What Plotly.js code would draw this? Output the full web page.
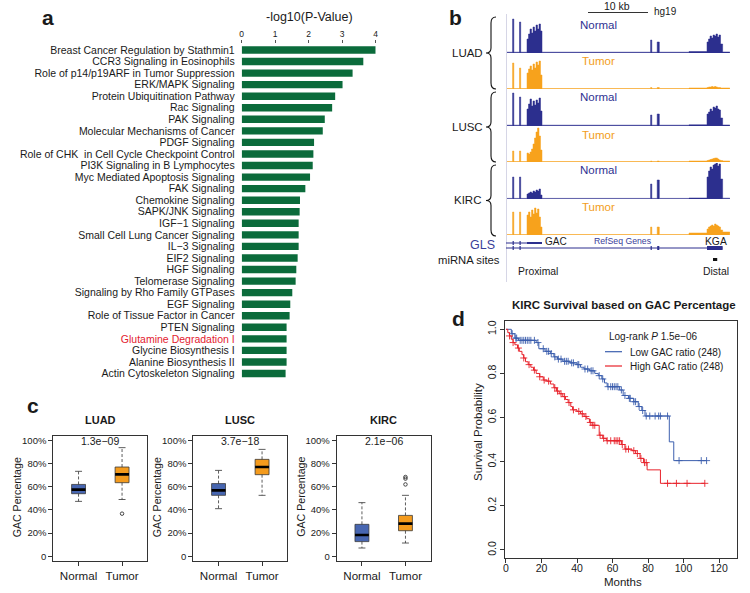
<!DOCTYPE html>
<html>
<head>
<meta charset="utf-8">
<script src="https://cdn.plot.ly/plotly-3.0.1.min.js"></script>
<style>
  html, body { margin: 0; padding: 0; background: #fff; }
  #fig { width: 750px; height: 593px; }
</style>
</head>
<body>
<div id="fig"></div>
<script>
/* ---------- panel a : pathway enrichment ---------- */
const pathways = [
  'Breast Cancer Regulation by Stathmin1', 'CCR3 Signaling in Eosinophils',
  'Role of p14/p19ARF in Tumor Suppression', 'ERK/MAPK Signaling',
  'Protein Ubiquitination Pathway', 'Rac Signaling', 'PAK Signaling',
  'Molecular Mechanisms of Cancer', 'PDGF Signaling',
  'Role of CHK  in Cell Cycle Checkpoint Control', 'PI3K Signaling in B Lymphocytes',
  'Myc Mediated Apoptosis Signaling', 'FAK Signaling', 'Chemokine Signaling',
  'SAPK/JNK Signaling', 'IGF\u22121 Signaling', 'Small Cell Lung Cancer Signaling',
  'IL\u22123 Signaling', 'EIF2 Signaling', 'HGF Signaling', 'Telomerase Signaling',
  'Signaling by Rho Family GTPases', 'EGF Signaling', 'Role of Tissue Factor in Cancer',
  'PTEN Signaling', 'Glutamine Degradation I', 'Glycine Biosynthesis I',
  'Alanine Biosynthesis II', 'Actin Cytoskeleton Signaling'
];
const pathwayScores = [4.0, 3.63, 3.31, 3.01, 2.79, 2.70, 2.48, 2.42, 2.16, 2.14, 2.12,
  2.04, 1.90, 1.74, 1.73, 1.70, 1.70, 1.70, 1.67, 1.63, 1.61, 1.51, 1.45, 1.43,
  1.34, 1.34, 1.34, 1.34, 1.31];
const highlightPathway = 'Glutamine Degradation I';

/* ---------- panel b : coverage tracks (kb from left edge of view) ---------- */
const covKb = [0, 1.1, 1.3, 2.25, 2.45, 3.5, 3.75, 4.0, 4.25, 4.5, 4.75, 5.0, 5.25, 5.5,
  5.75, 6.0, 24.1, 24.3, 25.2, 25.55, 30.5, 33.5, 33.75, 34.0, 34.25, 34.5, 34.75, 35.0,
  35.25, 35.5, 35.75, 36.1, 37.3];
const luadNormalCov = [0.8, 34, 0.8, 31, 0.8, 14, 19, 24, 20, 26, 22, 28, 24, 29, 22,
  0.8, 13, 0.8, 11, 0.8, 1.5, 11, 14, 17, 15, 18, 17, 19, 16, 18, 9, 1, 0];
const luadTumorCov = [0.5, 26, 0.5, 21, 0.5, 16, 20, 23, 19, 25, 21, 27, 24, 28, 14,
  0.5, 1.5, 0.5, 1.5, 0.5, 1, 1.5, 2, 2, 2.5, 2, 2.5, 2, 1.5, 1.5, 1, 1, 0];
const luscNormalCov = [0.8, 33, 0.8, 29, 0.8, 17, 22, 27, 20, 25, 21, 26, 23, 28, 15,
  0.8, 11, 0.8, 12, 0.8, 1.2, 12, 14, 17, 15, 19, 18, 20, 17, 16, 8, 1, 0];
const luscTumorCov = [0.5, 11, 0.5, 11, 0.5, 9, 8, 10, 13, 18, 24, 30, 34, 26, 12,
  0.5, 1, 0.5, 1, 0.5, 1, 1.5, 2, 2.5, 3, 3.5, 4, 4, 3, 2, 1.5, 1, 0];
const kircNormalCov = [0.6, 22, 0.6, 22, 0.6, 5, 6, 7, 6, 8, 7, 9, 8, 10, 4,
  0.6, 15, 0.6, 19, 0.6, 1, 22, 28, 32, 30, 34, 35, 36, 33, 35, 20, 0.8, 0];
const kircTumorCov = [0.5, 23, 0.5, 23, 0.5, 20, 23, 18, 25, 21, 27, 22, 26, 18, 8,
  0.5, 8, 0.5, 8, 0.5, 2, 6, 8, 9, 10, 9, 11, 10, 9, 8, 5, 3, 0];
const gacSpanKb = [0, 6.0];
const kgaSpanKb = [0, 36.1];
const exonKb = [[1.1, 1.3], [2.25, 2.45], [24.1, 24.3], [25.2, 25.55]];
const kgaLastExonKb = [33.5, 36.1];
const mirnaSiteKb = [34.5, 35.2];

/* ---------- panel c : GAC percentage boxplots ---------- */
const boxGroups = ['Normal', 'Tumor'];
const cancers = ['LUAD', 'LUSC', 'KIRC'];
const pValues = ['1.3e\u221209', '3.7e\u221218', '2.1e\u221206'];
const luadStats = { lo: [0.474, 0.49], q1: [0.54, 0.635], med: [0.575, 0.707], q3: [0.62, 0.77], hi: [0.733, 0.937], out: [[], [0.368]] };
const luscStats = { lo: [0.411, 0.526], q1: [0.526, 0.704], med: [0.569, 0.77], q3: [0.627, 0.836], hi: [0.741, 0.922], out: [[], []] };
const kircStats = { lo: [0.072, 0.115], q1: [0.127, 0.221], med: [0.184, 0.282], q3: [0.276, 0.353], hi: [0.463, 0.526], out: [[], [0.62, 0.67, 0.684]] };

/* ---------- panel d : KM survival ---------- */
const lowTimes = [0, 3, 5, 7, 17, 18.5, 22, 25, 27, 29, 32, 36, 40, 42, 44, 47, 50, 52, 54,
  55.5, 57, 64, 66, 69, 72, 74.5, 76.5, 78.3, 92, 94.5, 113];
const lowSurv = [1.0, 0.98, 0.96, 0.95, 0.94, 0.912, 0.90, 0.89, 0.875, 0.865, 0.855, 0.848,
  0.84, 0.828, 0.82, 0.812, 0.80, 0.79, 0.775, 0.757, 0.74, 0.725, 0.70, 0.687, 0.672,
  0.65, 0.632, 0.607, 0.49, 0.405, 0.405];
const highTimes = [0, 1, 2, 3, 4, 5, 6.5, 7.5, 9, 10, 11, 12.5, 14, 15.5, 17, 19, 21, 23, 25,
  27, 28.5, 30, 32, 33.5, 35, 36.5, 37.5, 40, 42, 44, 45.5, 47, 48.5, 52.5, 54.5, 56.5, 65,
  67, 71, 73, 75.5, 77.5, 79.5, 87, 112];
const highSurv = [1.0, 0.985, 0.97, 0.955, 0.94, 0.93, 0.915, 0.90, 0.885, 0.87, 0.853,
  0.84, 0.828, 0.815, 0.80, 0.785, 0.77, 0.765, 0.752, 0.735, 0.72, 0.708, 0.695, 0.682,
  0.668, 0.65, 0.635, 0.628, 0.617, 0.605, 0.595, 0.578, 0.565, 0.52, 0.506, 0.495, 0.478,
  0.457, 0.45, 0.437, 0.415, 0.396, 0.363, 0.302, 0.302];
const lowCensor = [3.5, 5.5, 6, 8, 9, 10, 11, 12, 13, 14, 16, 18, 21, 23, 24, 25.5, 27.5, 29.5,
  31, 33, 34, 35, 37, 38, 40.5, 41, 44.5, 46, 48, 49, 52.5, 54.5, 57.5, 59, 60, 61, 62, 63,
  65, 67, 69.5, 70, 72, 73, 75, 77, 79, 81, 84, 86, 87, 91, 97.5, 110, 113];
const highCensor = [2, 4, 7, 10, 13, 16, 19, 21.5, 24, 27.5, 29, 31, 33, 35.5, 38, 41, 43,
  45, 47.5, 49, 50, 53, 55, 57, 59, 61, 62, 63, 64, 65.5, 67.5, 69, 72, 74, 76, 78, 79,
  91, 96, 102, 112];

/* ---------- helpers ---------- */
const W = 750, H = 593;
const fx = px => px / W;
const fy = py => 1 - py / H;
const FONT = 'Liberation Sans, Arial, Helvetica, sans-serif';
const navy = '#2c2f8e';
const orange = '#f7a21c';

function ann(px, py, text, size, opts) {
  return Object.assign({
    xref: 'paper', yref: 'paper', x: fx(px), y: fy(py), text: text, showarrow: false,
    xanchor: 'center', yanchor: 'middle', font: { family: FONT, size: size, color: '#1a1a1a' }
  }, opts || {});
}

const traces = [];
const shapes = [];
const annotations = [];
const layout = {
  width: W, height: H, margin: { l: 0, r: 0, t: 0, b: 0 },
  paper_bgcolor: '#fff', plot_bgcolor: '#fff', showlegend: false,
  font: { family: FONT, color: '#1a1a1a' }
};

/* ===== panel a ===== */
traces.push({
  type: 'bar', orientation: 'h', x: pathwayScores, y: pathways,
  xaxis: 'x', yaxis: 'y', marker: { color: '#0b6b3b' }, width: 0.64, hoverinfo: 'skip'
});
layout.xaxis = {
  domain: [fx(241.7), fx(375.7)], range: [0, 4], side: 'top', anchor: 'y',
  tickvals: [0, 1, 2, 3, 4], ticks: 'outside', ticklen: 3, tickcolor: '#555',
  showgrid: false, zeroline: false, showline: false,
  tickfont: { size: 8.5, family: FONT }
};
layout.yaxis = {
  domain: [fy(379.3), fy(44.2)], type: 'category', range: [pathways.length - 0.5, -0.5],
  tickvals: pathways,
  ticktext: pathways.map(p => p === highlightPathway ? '<span style="color:#e3212f">' + p + '</span>' : p),
  ticks: '', showgrid: false, zeroline: false, showline: false, ticklabelstandoff: 6,
  tickfont: { size: 10.5, family: FONT, color: '#1a1a1a' }, anchor: 'x'
};
annotations.push(ann(309.5, 17, '-log10(P-Value)', 12.5));
annotations.push(ann(48, 17, '<b>a</b>', 21));

/* ===== panel b ===== */
const tracks = [
  { cov: luadNormalCov, color: navy, base: 53, label: 'Normal', ly: 25 },
  { cov: luadTumorCov, color: orange, base: 89, label: 'Tumor', ly: 61 },
  { cov: luscNormalCov, color: navy, base: 126, label: 'Normal', ly: 97 },
  { cov: luscTumorCov, color: orange, base: 162, label: 'Tumor', ly: 135 },
  { cov: kircNormalCov, color: navy, base: 199, label: 'Normal', ly: 170 },
  { cov: kircTumorCov, color: orange, base: 235, label: 'Tumor', ly: 207 }
];
layout.xaxis2 = { domain: [fx(506), fx(730)], range: [0, 37.33], visible: false, anchor: 'y7' };
tracks.forEach((t, i) => {
  const yn = i + 2;
  traces.push({
    type: 'scatter', mode: 'lines', x: covKb, y: t.cov, xaxis: 'x2', yaxis: 'y' + yn,
    line: { shape: 'hv', width: 0.5, color: t.color }, fill: 'tozeroy', fillcolor: t.color,
    hoverinfo: 'skip'
  });
  layout['yaxis' + yn] = {
    domain: [fy(t.base), fy(t.base - 36)], range: [0, 36], visible: false, anchor: 'x2'
  };
  annotations.push(ann(598, t.ly, t.label, 11.5, { font: { family: FONT, size: 11.5, color: t.color === navy ? '#2e3192' : '#f29d1a' } }));
});
// light left border of the browser view
shapes.push({ type: 'line', xref: 'paper', yref: 'paper', x0: fx(506.5), x1: fx(506.5), y0: fy(14), y1: fy(282), line: { color: '#d6d6e6', width: 1 } });
// braces
function brace(top, bot) {
  const mid = (top + bot) / 2, xv = 491, xe = 496, xt = 486;
  const P = (a, b) => fx(a) + ',' + fy(b);
  return 'M ' + P(xe, top) + ' Q ' + P(xv, top) + ' ' + P(xv, top + 6) +
    ' L ' + P(xv, mid - 5) + ' Q ' + P(xv, mid) + ' ' + P(xt, mid) +
    ' Q ' + P(xv, mid) + ' ' + P(xv, mid + 5) +
    ' L ' + P(xv, bot - 6) + ' Q ' + P(xv, bot) + ' ' + P(xe, bot);
}
[[17, 89, 'LUAD'], [92, 162, 'LUSC'], [165, 236, 'KIRC']].forEach(b => {
  shapes.push({ type: 'path', xref: 'paper', yref: 'paper', path: brace(b[0], b[1]), line: { color: '#111', width: 1.1 } });
  annotations.push(ann(467, (b[0] + b[1]) / 2, b[2], 11.5));
});
// gene models
shapes.push({ type: 'line', xref: 'x2', yref: 'paper', x0: gacSpanKb[0], x1: gacSpanKb[1], y0: fy(243), y1: fy(243), line: { color: navy, width: 1 } });
shapes.push({ type: 'line', xref: 'x2', yref: 'paper', x0: kgaSpanKb[0], x1: kgaSpanKb[1], y0: fy(248), y1: fy(248), line: { color: navy, width: 1 } });
exonKb.forEach((e, i) => {
  if (i < 2) shapes.push({ type: 'rect', xref: 'x2', yref: 'paper', x0: e[0], x1: e[1], y0: fy(245), y1: fy(241), fillcolor: navy, line: { width: 0 } });
  shapes.push({ type: 'rect', xref: 'x2', yref: 'paper', x0: e[0], x1: e[1], y0: fy(250), y1: fy(246), fillcolor: navy, line: { width: 0 } });
});
shapes.push({ type: 'rect', xref: 'x2', yref: 'paper', x0: 3.5, x1: gacSpanKb[1], y0: fy(244), y1: fy(242), fillcolor: navy, line: { width: 0 } });
shapes.push({ type: 'rect', xref: 'x2', yref: 'paper', x0: kgaLastExonKb[0], x1: kgaLastExonKb[1], y0: fy(250), y1: fy(246), fillcolor: navy, line: { width: 0 } });
shapes.push({ type: 'rect', xref: 'x2', yref: 'paper', x0: mirnaSiteKb[0], x1: mirnaSiteKb[1], y0: fy(261), y1: fy(258), fillcolor: '#111', line: { width: 0 } });
// scale bar
shapes.push({ type: 'line', xref: 'paper', yref: 'paper', x0: fx(588), x1: fx(648), y0: fy(12.5), y1: fy(12.5), line: { color: '#333', width: 1 } });
annotations.push(ann(617, 6, '10 kb', 10.5));
annotations.push(ann(665, 12, 'hg19', 10));
annotations.push(ann(482, 245, 'GLS', 12.5, { font: { family: FONT, size: 12.5, color: '#3a3d99' } }));
annotations.push(ann(556, 242, 'GAC', 10));
annotations.push(ann(623, 241, 'RefSeq Genes', 8.7, { font: { family: FONT, size: 8.7, color: '#3a3d99' } }));
annotations.push(ann(716, 242, 'KGA', 10.3));
annotations.push(ann(502, 259.5, 'miRNA sites', 11.3, { xanchor: 'right' }));
annotations.push(ann(538, 271, 'Proximal', 10.4));
annotations.push(ann(716, 271, 'Distal', 10.4));
annotations.push(ann(455, 17, '<b>b</b>', 21));

/* ===== panel c ===== */
const statsList = [luadStats, luscStats, kircStats];
const frameLeft = [53.3, 193.3, 336.7];
const boxFill = ['#4766b1', '#f49b1d'];
const hw = 0.16, cw = 0.08;
statsList.forEach((s, k) => {
  const xa = 'x' + (3 + k), ya = 'y' + (8 + k);
  boxGroups.forEach((g, i) => {
    const p = i + 1;
    traces.push({
      type: 'scatter', mode: 'lines', xaxis: xa, yaxis: ya, hoverinfo: 'skip',
      x: [p - hw, p + hw, p + hw, p - hw, p - hw], y: [s.q1[i], s.q1[i], s.q3[i], s.q3[i], s.q1[i]],
      fill: 'toself', fillcolor: boxFill[i], line: { color: '#3a3a3a', width: 0.8 }
    });
    traces.push({
      type: 'scatter', mode: 'lines', xaxis: xa, yaxis: ya, hoverinfo: 'skip',
      x: [p, p, null, p, p], y: [s.q3[i], s.hi[i], null, s.q1[i], s.lo[i]],
      line: { color: '#333', width: 0.8, dash: '3px,2px' }
    });
    traces.push({
      type: 'scatter', mode: 'lines', xaxis: xa, yaxis: ya, hoverinfo: 'skip',
      x: [p - cw, p + cw, null, p - cw, p + cw], y: [s.hi[i], s.hi[i], null, s.lo[i], s.lo[i]],
      line: { color: '#333', width: 0.8 }
    });
    traces.push({
      type: 'scatter', mode: 'lines', xaxis: xa, yaxis: ya, hoverinfo: 'skip',
      x: [p - hw, p + hw], y: [s.med[i], s.med[i]], line: { color: '#000', width: 2.6 }
    });
    if (s.out[i].length) {
      traces.push({
        type: 'scatter', mode: 'markers', xaxis: xa, yaxis: ya, hoverinfo: 'skip',
        x: s.out[i].map(() => p), y: s.out[i],
        marker: { symbol: 'circle-open', size: 3.5, color: '#333', line: { width: 0.9 } }
      });
    }
  });
  const L = frameLeft[k];
  layout['xaxis' + (3 + k)] = {
    domain: [fx(L), fx(L + 94)], range: [0.42, 2.58], anchor: 'y' + (8 + k),
    tickvals: [1, 2], ticktext: boxGroups, ticks: 'outside', ticklen: 4, tickcolor: '#333',
    showline: true, mirror: true, linecolor: '#333', linewidth: 1, showgrid: false, zeroline: false,
    tickfont: { size: 11.6, family: FONT }
  };
  layout['yaxis' + (8 + k)] = {
    domain: [fy(561), fy(435.7)], range: [-0.04, 1.04], anchor: 'x' + (3 + k),
    tickvals: [0, 0.2, 0.4, 0.6, 0.8, 1.0], ticktext: ['0', '20%', '40%', '60%', '80%', '100%'],
    ticks: 'outside', ticklen: 4, tickcolor: '#333',
    showline: true, mirror: true, linecolor: '#333', linewidth: 1, showgrid: false, zeroline: false,
    tickfont: { size: 9.5, family: FONT }
  };
  annotations.push(ann(L + 47, 420, '<b>' + cancers[k] + '</b>', 11));
  annotations.push(ann(L + 47, 441, pValues[k], 10.5));
  annotations.push(ann(L - 36, 497, 'GAC Percentage', 10.6, { textangle: -90 }));
});
annotations.push(ann(33, 405, '<b>c</b>', 21));

/* ===== panel d ===== */
function survAt(times, surv, t) {
  let v = surv[0];
  for (let i = 0; i < times.length; i++) if (times[i] <= t) v = surv[i];
  return v;
}
const blue = '#3c5fae', red = '#e8222b';
[[lowTimes, lowSurv, lowCensor, blue], [highTimes, highSurv, highCensor, red]].forEach(c => {
  traces.push({
    type: 'scatter', mode: 'lines', x: c[0], y: c[1], xaxis: 'x6', yaxis: 'y11',
    line: { shape: 'hv', color: c[3], width: 1 }, hoverinfo: 'skip'
  });
  traces.push({
    type: 'scatter', mode: 'markers', x: c[2], y: c[2].map(t => survAt(c[0], c[1], t)),
    xaxis: 'x6', yaxis: 'y11', hoverinfo: 'skip',
    marker: { symbol: 'cross-thin-open', size: 5, color: c[3], line: { color: c[3], width: 0.9 } }
  });
});
layout.xaxis6 = {
  domain: [fx(505), fx(737.3)], range: [-0.56, 130.3], anchor: 'y11',
  tickvals: [0, 20, 40, 60, 80, 100, 120], ticks: 'outside', ticklen: 4, tickcolor: '#333',
  showline: true, mirror: true, linecolor: '#333', linewidth: 1, showgrid: false, zeroline: false,
  ticklabelstandoff: -3,
  tickfont: { size: 10.5, family: FONT }
};
layout.yaxis11 = {
  domain: [fy(557.7), fy(320.7)], range: [-0.035, 1.039], anchor: 'x6',
  tickvals: [0, 0.2, 0.4, 0.6, 0.8, 1.0], tickformat: '.1f', tickangle: -90,
  ticks: 'outside', ticklen: 4, tickcolor: '#333',
  showline: true, mirror: true, linecolor: '#333', linewidth: 1, showgrid: false, zeroline: false,
  tickfont: { size: 10.5, family: FONT }
};
annotations.push(ann(623.8, 305, '<b>KIRC Survival based on GAC Percentage</b>', 11.5));
annotations.push(ann(478, 432, 'Survival Probability', 11.5, { textangle: -90 }));
annotations.push(ann(623, 582, 'Months', 11.5));
annotations.push(ann(607, 336, 'Log-rank <i>P</i> 1.5e\u221206', 10, { xanchor: 'left' }));
annotations.push(ann(627.5, 352, 'Low GAC ratio (248)', 10, { xanchor: 'left' }));
annotations.push(ann(627.5, 366.5, 'High GAC ratio (248)', 10, { xanchor: 'left' }));
shapes.push({ type: 'line', xref: 'paper', yref: 'paper', x0: fx(605), x1: fx(622), y0: fy(351.7), y1: fy(351.7), line: { color: blue, width: 1.2 } });
shapes.push({ type: 'line', xref: 'paper', yref: 'paper', x0: fx(605), x1: fx(622), y0: fy(366), y1: fy(366), line: { color: red, width: 1.2 } });
annotations.push(ann(458, 318, '<b>d</b>', 21));

layout.shapes = shapes;
layout.annotations = annotations;

Plotly.newPlot('fig', traces, layout, { staticPlot: true, displayModeBar: false });
</script>
</body>
</html>
